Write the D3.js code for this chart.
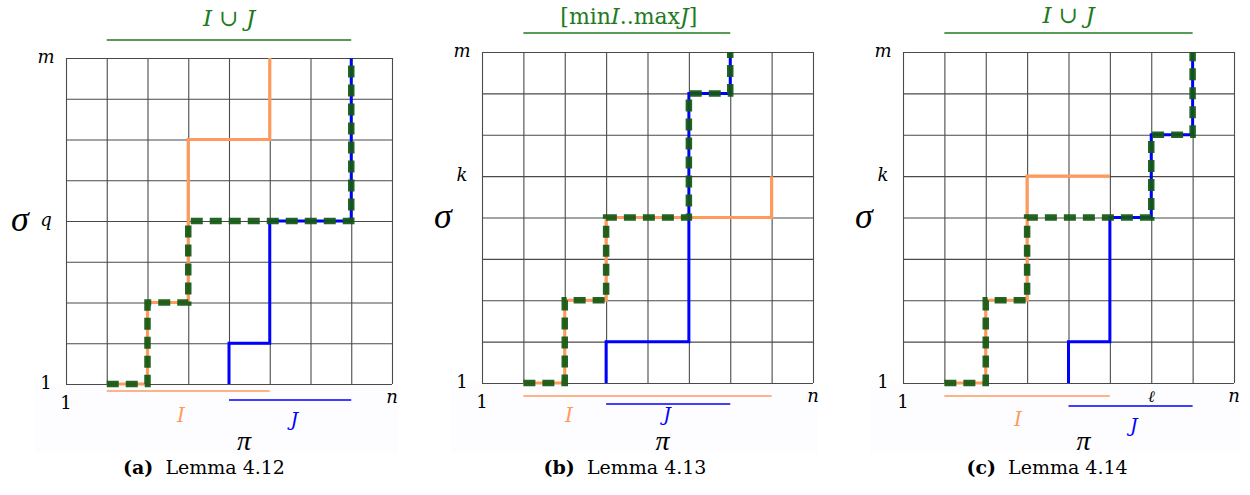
<!DOCTYPE html>
<html>
<head>
<meta charset="utf-8">
<script src="https://cdn.jsdelivr.net/npm/d3@7"></script>
<style>
  body { margin: 0; background: #fff; }
  svg { display: block; }
  text { font-family: "DejaVu Serif", serif; }
</style>
</head>
<body>
<div id="chart"></div>
<script>
// grid ticks (8 x 8 cells)
const gridTicks = [0, 1, 2, 3, 4, 5, 6, 7, 8];

// panel (a) Lemma 4.12
const pathIa = [[1,0],[2,0],[2,2],[3,2],[3,4],[3,6],[5,6],[5,8]];
const pathJa = [[4,0],[4,1],[5,1],[5,4],[7,4],[7,8]];
const pathUa = [[1,0],[2,0],[2,2],[3,2],[3,4],[7,4],[7,8]];
const rangeIa = [1, 5], rangeJa = [4, 7], rangeUa = [1, 7];
const yLabelsA = [[0, "1"], [4, "q"], [8, "m"]];
const xLabelsA = [[0, "1"], [8, "n"]];

// panel (b) Lemma 4.13
const pathIb = [[1,0],[2,0],[2,2],[3,2],[3,4],[7,4],[7,5]];
const pathJb = [[3,0],[3,1],[5,1],[5,7],[6,7],[6,8]];
const pathUb = [[1,0],[2,0],[2,2],[3,2],[3,4],[5,4],[5,7],[6,7],[6,8]];
const rangeIb = [1, 7], rangeJb = [3, 6], rangeUb = [1, 6];
const yLabelsB = [[0, "1"], [5, "k"], [8, "m"]];
const xLabelsB = [[0, "1"], [8, "n"]];

// panel (c) Lemma 4.14
const pathIc = [[1,0],[2,0],[2,2],[3,2],[3,4],[3,5],[5,5]];
const pathJc = [[4,0],[4,1],[5,1],[5,4],[6,4],[6,6],[7,6],[7,8]];
const pathUc = [[1,0],[2,0],[2,2],[3,2],[3,4],[6,4],[6,6],[7,6],[7,8]];
const rangeIc = [1, 5], rangeJc = [4, 7], rangeUc = [1, 7];
const yLabelsC = [[0, "1"], [5, "k"], [8, "m"]];
const xLabelsC = [[0, "1"], [6, "ℓ"], [8, "n"]];

// titles and captions
const titles = [
  [["I", true], [" ∪ ", false], ["J", true]],
  [["[min", false], ["I", true], ["..max", false], ["J", true], ["]", false]],
  [["I", true], [" ∪ ", false], ["J", true]]
];
const captionTags = ["(a)", "(b)", "(c)"];
const captionTexts = ["Lemma 4.12", "Lemma 4.13", "Lemma 4.14"];

const orange = "#ff9a5c", blue = "#0000ff", green = "#135813", titleGreen = "#1f7a1f";
const mathFont = "'Liberation Serif', serif";

// layout of each panel (pixel geometry only)
const layout = [
  { left: 66, top: 58, size: 326, bg: [35, 398], sigmaDx: -46, yLabDx: -20,
    iLine: 7, jLine: 16, iLab: [2.82, 38], jLab: [5.6, 42], titleY: 26, titleLine: 40, titleX: 4, capX: 204 },
  { left: 482, top: 52, size: 331, bg: [451, 818], sigmaDx: -39, yLabDx: -20,
    iLine: 13, jLine: 21, iLab: [2.1, 39], jLab: [4.47, 38], titleY: 24, titleLine: 33, titleX: 3.55, capX: 625 },
  { left: 903, top: 52, size: 331, bg: [870, 1240], sigmaDx: -39, yLabDx: -20,
    iLine: 13, jLine: 23, iLab: [2.78, 43], jLab: [5.58, 49], titleY: 23, titleLine: 33, titleX: 4, capX: 1047 }
];
const piY = 450, captionY = 474;

const panels = [
  { I: pathIa, J: pathJa, U: pathUa, rI: rangeIa, rJ: rangeJa, rU: rangeUa, yl: yLabelsA, xl: xLabelsA },
  { I: pathIb, J: pathJb, U: pathUb, rI: rangeIb, rJ: rangeJb, rU: rangeUb, yl: yLabelsB, xl: xLabelsB },
  { I: pathIc, J: pathJc, U: pathUc, rI: rangeIc, rJ: rangeJc, rU: rangeUc, yl: yLabelsC, xl: xLabelsC }
];

const svg = d3.select("#chart").append("svg")
  .attr("width", 1250)
  .attr("height", 495);

panels.forEach((p, i) => {
  const L = layout[i];
  const x = d3.scaleLinear().domain([0, 8]).range([L.left, L.left + L.size]);
  const y = d3.scaleLinear().domain([0, 8]).range([L.top + L.size, L.top]);
  const g = svg.append("g");
  const bottom = y(0);

  // faint background strip below the grid
  g.append("rect")
    .attr("x", L.bg[0]).attr("y", bottom)
    .attr("width", L.bg[1] - L.bg[0]).attr("height", 453 - bottom)
    .attr("fill", "#fdfcff");

  // grid through axes
  const gx = g.append("g")
    .attr("transform", `translate(0,${bottom})`)
    .call(d3.axisBottom(x).tickValues(gridTicks).tickSize(-L.size).tickFormat(""));
  const gy = g.append("g")
    .attr("transform", `translate(${L.left},0)`)
    .call(d3.axisLeft(y).tickValues(gridTicks).tickSize(-L.size).tickFormat(""));
  [gx, gy].forEach(a => {
    a.select(".domain").remove();
    a.selectAll(".tick line").attr("stroke", "#4a4a4a").attr("stroke-width", 1.1);
  });

  const line = d3.line().x(d => x(d[0])).y(d => y(d[1]));

  g.append("path").attr("d", line(p.I))
    .attr("fill", "none").attr("stroke", orange).attr("stroke-width", 3.2)
    .attr("stroke-linejoin", "miter");
  g.append("path").attr("d", line(p.J))
    .attr("fill", "none").attr("stroke", blue).attr("stroke-width", 3)
    .attr("stroke-linejoin", "miter");
  g.append("path").attr("d", line(p.U))
    .attr("fill", "none").attr("stroke", green).attr("stroke-width", 6.5)
    .attr("stroke-dasharray", "12 7").attr("opacity", 0.93)
    .attr("stroke-linejoin", "miter");

  // interval bars under the grid
  g.append("line")
    .attr("x1", x(p.rI[0])).attr("x2", x(p.rI[1]))
    .attr("y1", bottom + L.iLine).attr("y2", bottom + L.iLine)
    .attr("stroke", orange).attr("stroke-width", 1.6);
  g.append("line")
    .attr("x1", x(p.rJ[0])).attr("x2", x(p.rJ[1]))
    .attr("y1", bottom + L.jLine).attr("y2", bottom + L.jLine)
    .attr("stroke", blue).attr("stroke-width", 1.6);
  g.append("text")
    .attr("x", x(L.iLab[0])).attr("y", bottom + L.iLab[1])
    .attr("text-anchor", "middle").attr("font-style", "italic")
    .attr("font-size", 20).attr("fill", orange).text("I");
  g.append("text")
    .attr("x", x(L.jLab[0])).attr("y", bottom + L.jLab[1])
    .attr("text-anchor", "middle").attr("font-style", "italic")
    .attr("font-size", 19).attr("fill", blue).text("J");

  // top interval bar and title
  g.append("line")
    .attr("x1", x(p.rU[0])).attr("x2", x(p.rU[1]))
    .attr("y1", L.titleLine).attr("y2", L.titleLine)
    .attr("stroke", titleGreen).attr("stroke-width", 1.6);
  const t = g.append("text")
    .attr("x", x(L.titleX)).attr("y", L.titleY)
    .attr("text-anchor", "middle").attr("fill", titleGreen)
    .attr("font-size", i === 1 ? 22 : 23);
  titles[i].forEach(part => {
    t.append("tspan").attr("font-style", part[1] ? "italic" : "normal").text(part[0]);
  });

  // axis labels
  p.yl.forEach(d => {
    const num = d[1] === "1";
    g.append("text")
      .attr("x", L.left + L.yLabDx).attr("y", y(d[0]) + 5)
      .attr("text-anchor", "middle")
      .attr("font-style", num ? "normal" : "italic")
      .attr("font-size", 18)
      .text(d[1]);
  });
  p.xl.forEach(d => {
    const num = d[1] === "1";
    g.append("text")
      .attr("x", x(d[0])).attr("y", bottom + (num ? 25 : 19))
      .attr("text-anchor", "middle")
      .attr("font-style", num ? "normal" : "italic")
      .attr("font-size", d[1] === "ℓ" ? 16 : 18)
      .text(d[1]);
  });

  g.append("text")
    .attr("x", L.left + L.sigmaDx).attr("y", y(4) + 10)
    .attr("text-anchor", "middle").attr("font-style", "italic")
    .style("font-family", mathFont)
    .attr("font-size", 36).text("σ");
  g.append("text")
    .attr("x", x(4) + 15).attr("y", piY)
    .attr("text-anchor", "middle").attr("font-style", "italic")
    .style("font-family", mathFont)
    .attr("font-size", 28).text("π");

  // caption
  const c = g.append("text")
    .attr("x", L.capX).attr("y", captionY)
    .attr("text-anchor", "middle").attr("font-size", 19);
  c.append("tspan").attr("font-weight", "bold").text(captionTags[i]);
  c.append("tspan").text("\u00a0\u00a0" + captionTexts[i]);
});
</script>
</body>
</html>
